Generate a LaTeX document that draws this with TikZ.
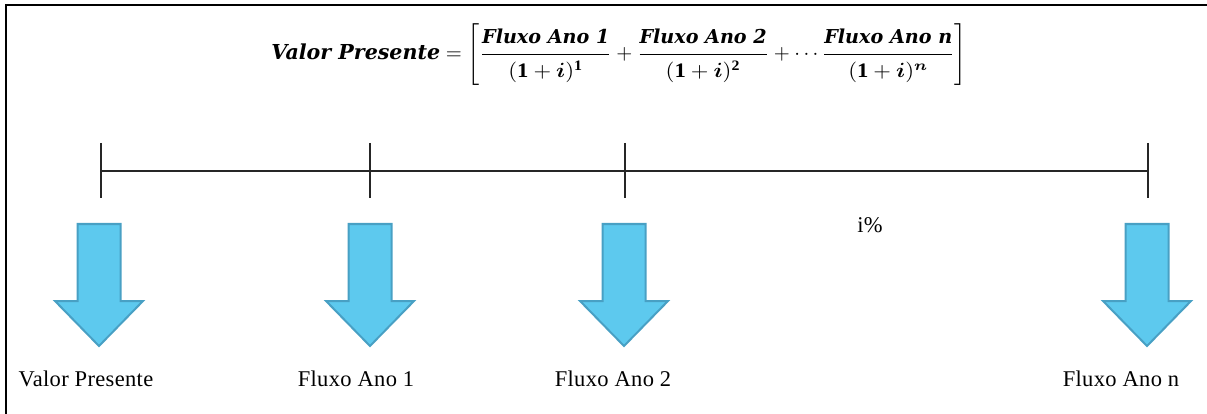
\documentclass[tikz,border=0pt]{standalone}
\usepackage{amsmath}
\usepackage{graphicx}
\usepackage{fontspec}
\setmainfont{Liberation Serif}
\newfontfamily\eqfont{DejaVu Serif}
\newfontfamily\capfont[LetterSpace=1.5]{Liberation Serif}
\definecolor{arrowfill}{RGB}{93,201,238}
\definecolor{arrowedge}{RGB}{72,160,196}
% bold italic words of the formula
\newcommand{\bw}[1]{\text{\eqfont\bfseries\itshape #1}}
\newcommand{\bwnum}[1]{\text{\fontsize{9.3}{11}\selectfont\eqfont\bfseries\itshape #1}}
% one term of the sum: numerator over (1+i)^k
\newcommand{\pvterm}[2]{\dfrac{\rule[-3.8pt]{0pt}{0pt}\bwnum{#1}}%
  {\rule{0pt}{10pt}\scalebox{1.1}[1]{$(\mathbf{1}+\boldsymbol{i})^{#2}$}}}
\newcommand{\pvformula}{$\bw{Valor Presente} = \left[\pvterm{Fluxo Ano 1}{\mathbf{1}}
   + \pvterm{Fluxo Ano 2}{\mathbf{2}}
   + \cdots\pvterm{Fluxo Ano n}{\boldsymbol{n}}\right]$}
\begin{document}
\begin{tikzpicture}[x=1pt,y=-1pt,
  frameline/.style={line width=2pt,black},
  axis/.style={line width=1.2pt,black!85},
  flowarrow/.style={fill=arrowfill,draw=arrowedge,line width=2pt,line join=miter},
  caption/.style={font=\capfont\fontsize{22.5}{26}\selectfont,anchor=base,inner sep=0pt},
]
\path[use as bounding box] (0,0) rectangle (1207,414);

% outer frame: only the top and left sides are visible
\coordinate (fb) at (6,414);
\coordinate (fc) at (6,5);
\coordinate (fr) at (1207,5);
\draw[frameline] (fb) -- (fc) -- (fr);

% present value formula
\node[inner sep=0pt,scale=2.06,anchor=base west] (pv) at (271,59.5) {\pvformula};

% time line with ticks
\coordinate (t0) at (101,171);
\coordinate (t1) at (370,171);
\coordinate (t2) at (625,171);
\coordinate (t3) at (1148,171);
\draw[axis] (t0) -- (t3);
\foreach \t in {t0,t1,t2,t3}
  \draw[axis] ([yshift=28pt]\t) -- ([yshift=-27pt]\t);

% interest rate
\node[caption] (rate) at (870,233) {i\%};

% cash-flow arrows
\foreach \c in {99,370,624,1147}
  \draw[flowarrow] (\c-21.5,224) -- (\c+21.5,224) -- (\c+21.5,301)
    -- (\c+44,301) -- (\c,346) -- (\c-44,301) -- (\c-21.5,301) -- cycle;

% captions under the arrows
\node[caption] (l0) at (86,386) {Valor Presente};
\node[caption] (l1) at (356,386) {Fluxo Ano 1};
\node[caption] (l2) at (613,386) {Fluxo Ano 2};
\node[caption] (l3) at (1121,386) {Fluxo Ano n};
\end{tikzpicture}
\end{document}
